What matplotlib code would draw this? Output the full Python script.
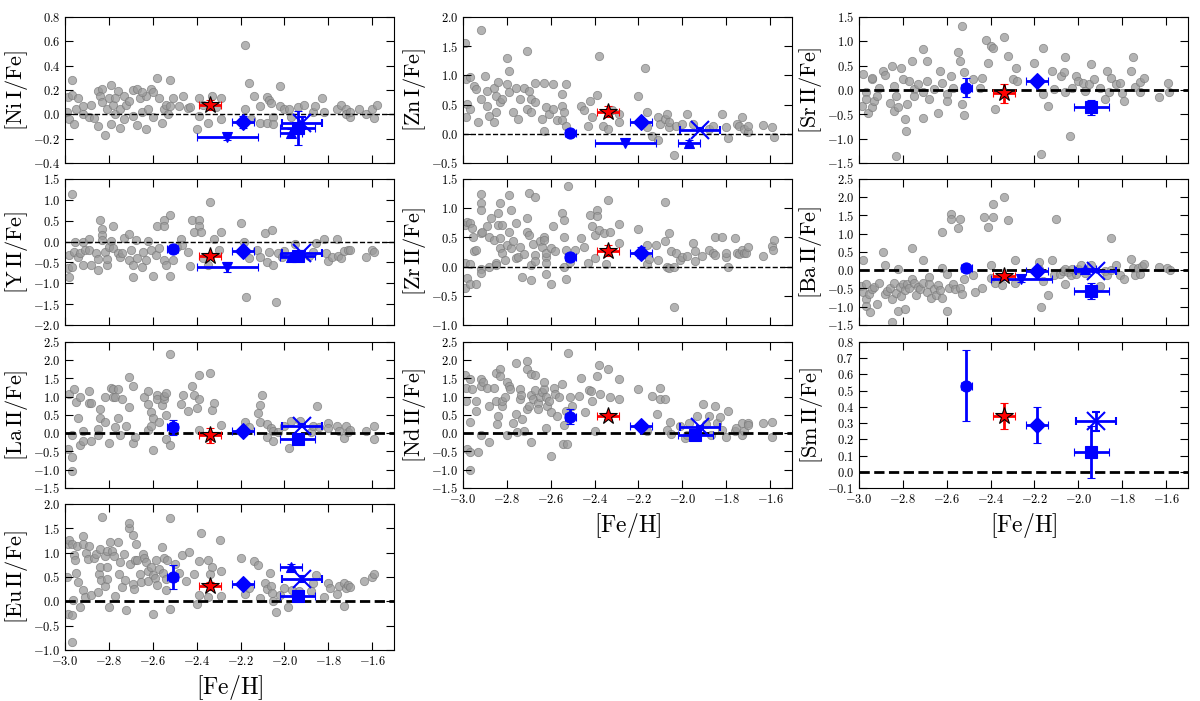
import numpy as np
import matplotlib
matplotlib.use('Agg')
import matplotlib.pyplot as plt
from matplotlib.ticker import MultipleLocator, FuncFormatter

plt.rcParams['mathtext.fontset'] = 'cm'
plt.rcParams['font.family'] = 'serif'
plt.rcParams['font.serif'] = ['DejaVu Serif']

# program stars: marker order and their [Fe/H] with errors
star_marker = ['o', '*', 'D', 'v', '^', 's', 'x']
star_feh = [-2.51, -2.34, -2.19, -2.26, -1.97, -1.94, -1.92]
star_feh_err = [0.027, 0.05, 0.05, 0.14, 0.05, 0.08, 0.09]

nan = np.nan
# [X/Fe] of the program stars (nan = not measured), same order as star_marker
ni_star = [nan, 0.077, -0.06, -0.19, -0.15, -0.11, -0.07]
ni_star_err = [nan, 0.04, 0.05, 0.02, 0.03, 0.14, 0.05]
zn_star = [0.01, 0.38, 0.20, -0.15, -0.15, nan, 0.07]
zn_star_err = [0.03, 0.10, 0.06, 0.03, 0.04, nan, 0.03]
sr_star = [0.05, -0.07, 0.185, nan, nan, -0.36, nan]
sr_star_err = [0.20, 0.19, 0.09, nan, nan, 0.16, nan]
y_star = [-0.18, -0.345, -0.22, -0.60, -0.38, -0.345, -0.28]
y_star_err = [0.07, 0.06, 0.07, 0.12, 0.04, 0.05, 0.05]
zr_star = [0.17, 0.275, 0.24, nan, nan, nan, nan]
zr_star_err = [0.07, 0.10, 0.10, nan, nan, nan, nan]
ba_star = [0.06, -0.16, -0.01, -0.25, 0.02, -0.57, -0.01]
ba_star_err = [0.05, 0.06, 0.07, 0.06, 0.03, 0.22, 0.03]
la_star = [0.16, -0.06, 0.07, nan, nan, -0.15, 0.21]
la_star_err = [0.20, 0.20, 0.08, nan, nan, 0.04, 0.05]
nd_star = [0.45, 0.48, 0.19, nan, nan, -0.05, 0.16]
nd_star_err = [0.20, 0.08, 0.06, nan, nan, 0.06, 0.05]
sm_star = [0.53, 0.345, 0.29, nan, nan, 0.12, 0.31]
sm_star_err = [0.22, 0.08, 0.11, nan, nan, 0.16, 0.06]
eu_star = [0.50, 0.31, 0.35, nan, 0.71, 0.10, 0.46]
eu_star_err = [0.25, 0.08, 0.08, nan, 0.06, 0.10, 0.06]

# literature comparison sample, ([Fe/H], [X/Fe])
ni_lit = [(-2.97, 0.28), (-2.985, 0.14), (-2.97, 0.16), (-2.94, 0.13), (-2.99, 0.02), (-2.98, -0.04),
          (-2.96, -0.08), (-2.95, 0.04), (-2.92, 0.07), (-2.92, 0.0), (-2.89, -0.02), (-2.87, -0.03),
          (-2.88, 0.08), (-2.85, 0.19), (-2.83, 0.21), (-2.84, 0.15), (-2.83, 0.10), (-2.85, -0.10),
          (-2.82, -0.17), (-2.81, 0.04), (-2.80, 0.13), (-2.79, 0.24), (-2.78, 0.08), (-2.77, 0.0),
          (-2.79, -0.08), (-2.76, 0.19), (-2.77, 0.13), (-2.75, 0.04), (-2.73, -0.04), (-2.75, -0.11),
          (-2.73, 0.15), (-2.72, 0.08), (-2.71, 0.11), (-2.69, 0.20), (-2.67, 0.21), (-2.69, -0.01),
          (-2.67, -0.09), (-2.66, 0.13), (-2.65, 0.02), (-2.63, 0.15), (-2.63, -0.12), (-2.65, 0.18),
          (-2.61, 0.21), (-2.60, 0.18), (-2.62, 0.04), (-2.60, -0.02), (-2.58, 0.30), (-2.57, 0.13),
          (-2.55, 0.04), (-2.56, -0.07), (-2.54, 0.08), (-2.53, 0.0), (-2.52, 0.28), (-2.51, 0.13),
          (-2.52, 0.07), (-2.48, 0.07), (-2.46, 0.15), (-2.44, 0.05), (-2.43, 0.06), (-2.40, -0.12),
          (-2.39, 0.13), (-2.39, -0.01), (-2.37, 0.08), (-2.35, -0.07), (-2.33, 0.15), (-2.31, 0.06),
          (-2.29, 0.13), (-2.29, -0.04), (-2.18, 0.04), (-2.18, 0.57), (-2.16, 0.26), (-2.14, 0.15),
          (-2.15, -0.04), (-2.11, -0.07), (-2.11, 0.07), (-2.08, 0.14), (-2.08, -0.07), (-2.07, 0.12),
          (-2.06, 0.09), (-2.05, -0.02), (-2.05, -0.08), (-2.02, 0.23), (-2.02, 0.07), (-2.00, 0.04),
          (-1.98, 0.04), (-1.97, -0.02), (-1.94, 0.06), (-1.91, 0.08), (-1.87, 0.02), (-1.86, 0.07),
          (-1.83, 0.13), (-1.82, 0.02), (-1.76, 0.04), (-1.74, 0.08), (-1.72, 0.04), (-1.72, 0.0),
          (-1.70, -0.02), (-1.70, 0.02), (-1.66, 0.04), (-1.63, 0.0), (-1.60, 0.04), (-1.58, 0.08),
          (-1.59, -0.03)]

zn_lit = [(-2.99, 1.55), (-2.92, 1.78), (-2.985, 0.93), (-2.97, 0.98), (-2.95, 0.82), (-2.98, 0.51),
          (-2.985, 0.28), (-2.97, 0.42), (-2.94, 0.76), (-2.92, 0.60), (-2.93, 0.20), (-2.90, 0.99),
          (-2.89, 0.73), (-2.89, 0.48), (-2.88, 0.31), (-2.86, 0.79), (-2.84, 0.88), (-2.85, 0.65),
          (-2.83, 0.54), (-2.82, 0.60), (-2.85, 0.37), (-2.86, 0.20), (-2.80, 0.85), (-2.80, 1.30),
          (-2.79, 1.07), (-2.79, 0.71), (-2.77, 0.37), (-2.76, 0.79), (-2.75, 0.25), (-2.74, 0.59),
          (-2.71, 1.41), (-2.72, 0.79), (-2.70, 0.73), (-2.69, 0.59), (-2.71, 0.42), (-2.69, 0.37),
          (-2.67, 0.87), (-2.67, 0.54), (-2.64, 0.25), (-2.63, 0.87), (-2.62, 0.45), (-2.63, 0.04),
          (-2.61, 0.34), (-2.59, 0.85), (-2.59, 0.42), (-2.57, 0.23), (-2.55, 0.68), (-2.55, 0.48),
          (-2.54, 0.37), (-2.55, 0.23), (-2.53, 0.85), (-2.53, 0.14), (-2.46, 0.48), (-2.45, 0.40),
          (-2.43, 0.14), (-2.42, 0.56), (-2.41, 0.28), (-2.39, 0.66), (-2.38, 1.33), (-2.36, 0.14),
          (-2.34, 0.08), (-2.32, 0.40), (-2.29, 0.20), (-2.29, 0.34), (-2.20, 0.65), (-2.17, 1.13),
          (-2.16, 0.37), (-2.16, 0.11), (-2.14, -0.04), (-2.11, -0.11), (-2.11, 0.28), (-2.10, 0.17),
          (-2.08, 0.25), (-2.07, 0.34), (-2.06, 0.11), (-2.06, 0.20), (-2.04, -0.37), (-2.03, 0.14),
          (-2.00, 0.17), (-1.98, 0.34), (-1.95, 0.17), (-1.88, 0.08), (-1.86, 0.14), (-1.82, 0.34),
          (-1.80, 0.11), (-1.79, -0.08), (-1.75, 0.17), (-1.74, 0.14), (-1.73, 0.28), (-1.72, 0.08),
          (-1.70, 0.03), (-1.70, 0.14), (-1.63, 0.15), (-1.59, 0.11), (-1.58, -0.06)]

sr_lit = [(-2.985, -0.33), (-2.98, 0.32), (-2.97, -0.05), (-2.97, -0.19), (-2.96, -0.47), (-2.94, -0.36),
          (-2.94, 0.22), (-2.93, -0.23), (-2.94, 0.25), (-2.92, -0.12), (-2.91, 0.05), (-2.89, 0.39),
          (-2.88, 0.30), (-2.86, -0.26), (-2.85, 0.49), (-2.84, -0.43), (-2.84, 0.08), (-2.83, -0.12),
          (-2.83, -1.36), (-2.82, -0.36), (-2.81, 0.46), (-2.80, 0.22), (-2.79, -0.60), (-2.785, -0.84),
          (-2.78, -0.29), (-2.77, 0.18), (-2.76, 0.60), (-2.75, 0.01), (-2.75, -0.12), (-2.73, 0.12),
          (-2.71, -0.57), (-2.71, 0.85), (-2.71, -0.05), (-2.69, 0.60), (-2.69, 0.18), (-2.68, -0.19),
          (-2.66, 0.01), (-2.64, -0.47), (-2.63, 0.39), (-2.62, 0.15), (-2.60, -0.09), (-2.60, -0.23),
          (-2.58, 0.29), (-2.57, 0.05), (-2.55, 0.79), (-2.54, 0.60), (-2.53, 1.31), (-2.52, 0.36),
          (-2.53, -0.29), (-2.52, -0.52), (-2.48, 0.22), (-2.45, 0.05), (-2.44, 0.25), (-2.42, 1.03),
          (-2.41, 0.56), (-2.40, 0.90), (-2.39, 0.87), (-2.38, -0.40), (-2.34, 1.08), (-2.32, 0.70),
          (-2.30, 0.22), (-2.285, 0.46), (-2.28, 0.18), (-2.20, 0.56), (-2.16, 0.87), (-2.16, -0.09),
          (-2.17, -1.32), (-2.14, -0.33), (-2.12, 0.39), (-2.11, 0.01), (-2.08, 0.29), (-2.065, 0.36),
          (-2.06, 0.68), (-2.06, -0.05), (-2.04, -0.94), (-2.03, 0.05), (-2.01, 0.29), (-2.00, 0.18),
          (-1.98, 0.15), (-1.97, -0.02), (-1.95, 0.12), (-1.94, 0.53), (-1.93, 0.22), (-1.90, 0.05),
          (-1.88, -0.19), (-1.87, 0.39), (-1.85, 0.25), (-1.86, -0.05), (-1.83, 0.12), (-1.81, 0.15),
          (-1.80, -0.07), (-1.79, -0.23), (-1.76, 0.39), (-1.75, 0.68), (-1.74, 0.07), (-1.72, -0.05),
          (-1.72, 0.16), (-1.70, 0.25), (-1.63, -0.14), (-1.59, 0.15), (-1.585, -0.05)]

y_lit = [(-2.97, 1.13), (-2.985, -0.64), (-2.98, -0.84), (-2.97, -0.60), (-2.98, -0.32), (-2.96, -0.24),
         (-2.955, -0.02), (-2.94, -0.36), (-2.93, -0.27), (-2.92, 0.0), (-2.92, -0.56), (-2.91, -0.20),
         (-2.89, 0.06), (-2.89, -0.20), (-2.88, -0.56), (-2.86, -0.27), (-2.85, -0.43), (-2.85, -0.68),
         (-2.84, 0.52), (-2.83, 0.30), (-2.83, 0.16), (-2.83, 0.04), (-2.82, -0.24), (-2.81, -0.56),
         (-2.81, -0.43), (-2.80, -0.14), (-2.79, 0.02), (-2.78, 0.38), (-2.78, -0.16), (-2.76, -0.28),
         (-2.75, -0.38), (-2.74, -0.28), (-2.73, 0.08), (-2.71, 0.18), (-2.71, -0.44), (-2.70, -0.20),
         (-2.69, -0.86), (-2.69, -0.56), (-2.675, 0.04), (-2.67, -0.40), (-2.65, -0.60), (-2.645, -0.24),
         (-2.63, -0.44), (-2.62, 0.02), (-2.61, -0.20), (-2.60, -0.83), (-2.585, -0.32), (-2.58, 0.38),
         (-2.57, -0.16), (-2.55, 0.51), (-2.55, 0.38), (-2.55, -0.44), (-2.54, -0.56), (-2.52, 0.63),
         (-2.52, -0.83), (-2.51, -0.44), (-2.49, -0.14), (-2.47, 0.06), (-2.465, -0.08), (-2.44, -0.24),
         (-2.43, -0.59), (-2.42, 0.52), (-2.41, 0.22), (-2.39, 0.52), (-2.39, 0.38), (-2.38, 0.24),
         (-2.37, -0.40), (-2.35, -0.56), (-2.34, 0.94), (-2.32, 0.06), (-2.30, -0.20), (-2.29, 0.22),
         (-2.20, 0.44), (-2.185, 0.0), (-2.175, -1.33), (-2.16, -0.40), (-2.125, -0.20), (-2.11, -0.36),
         (-2.09, 0.20), (-2.08, -0.50), (-2.07, -0.24), (-2.055, 0.28), (-2.05, -0.56), (-2.04, -1.45),
         (-2.03, -0.27), (-2.01, -0.36), (-2.00, -0.22), (-1.95, -0.06), (-1.89, -0.35), (-1.87, -0.24),
         (-1.855, -0.04), (-1.82, 0.06), (-1.81, -0.28), (-1.80, -0.46), (-1.785, -0.38), (-1.76, 0.06),
         (-1.755, -0.35), (-1.74, -0.40), (-1.73, -0.22), (-1.71, -0.20), (-1.70, -0.20), (-1.63, -0.36),
         (-1.60, -0.20), (-1.59, -0.24)]

zr_lit = [(-2.99, 0.06), (-2.99, -0.37), (-2.98, -0.20), (-2.97, -0.29), (-2.99, 0.72), (-2.98, 0.77),
          (-2.97, 0.74), (-2.96, 0.66), (-2.97, 0.05), (-2.955, 0.51), (-2.95, 0.26), (-2.94, 0.29),
          (-2.94, -0.30), (-2.92, 1.25), (-2.92, 1.08), (-2.92, 0.97), (-2.92, 0.58), (-2.92, -0.05),
          (-2.92, -0.11), (-2.915, 0.60), (-2.89, 0.69), (-2.88, 0.51), (-2.88, -0.01), (-2.87, 0.83),
          (-2.86, 0.46), (-2.85, 0.06), (-2.85, 0.03), (-2.84, 0.72), (-2.84, 0.92), (-2.83, 0.31),
          (-2.83, 0.49), (-2.83, 1.08), (-2.82, 0.72), (-2.82, 0.23), (-2.81, 0.11), (-2.80, 0.37),
          (-2.79, 1.23), (-2.79, 0.60), (-2.78, 0.97), (-2.78, 0.31), (-2.77, 0.43), (-2.76, 0.74),
          (-2.76, 0.14), (-2.75, 0.16), (-2.74, 0.34), (-2.73, -0.18), (-2.72, 0.22), (-2.71, 0.60),
          (-2.71, 0.83), (-2.70, 0.54), (-2.70, 1.26), (-2.69, -0.23), (-2.69, 0.03), (-2.68, 0.39),
          (-2.67, 1.19), (-2.67, 0.20), (-2.67, 0.09), (-2.65, 0.43), (-2.64, 0.34), (-2.63, 0.51),
          (-2.63, 0.46), (-2.62, 0.16), (-2.62, 0.24), (-2.62, 0.06), (-2.62, -0.13), (-2.60, -0.29),
          (-2.60, 0.31), (-2.59, 0.69), (-2.58, 0.26), (-2.55, 0.92), (-2.54, 0.79), (-2.54, -0.01),
          (-2.54, 0.51), (-2.53, 0.29), (-2.52, 1.38), (-2.53, -0.22), (-2.51, 0.07), (-2.49, 0.29),
          (-2.46, 0.49), (-2.45, 0.33), (-2.43, 0.06), (-2.42, 0.89), (-2.41, 0.69), (-2.40, 0.54),
          (-2.40, 0.14), (-2.39, 0.97), (-2.39, 0.87), (-2.38, 0.63), (-2.355, 0.57), (-2.35, 0.05),
          (-2.34, 1.14), (-2.33, 0.60), (-2.29, 0.73), (-2.29, 0.40), (-2.20, 0.64), (-2.16, 0.37),
          (-2.16, 0.05), (-2.15, 0.13), (-2.12, 0.37), (-2.11, 0.11), (-2.08, 1.10), (-2.08, 0.43),
          (-2.07, -0.01), (-2.06, 0.57), (-2.06, -0.03), (-2.05, 0.27), (-2.04, -0.01), (-2.04, -0.69),
          (-2.03, 0.24), (-2.01, 0.11), (-2.00, 0.16), (-1.98, 0.18), (-1.95, 0.40), (-1.94, 0.26),
          (-1.94, 0.10), (-1.91, 0.18), (-1.88, 0.29), (-1.86, 0.23), (-1.85, 0.51), (-1.85, 0.20),
          (-1.82, 0.51), (-1.80, 0.17), (-1.80, 0.23), (-1.79, 0.0), (-1.76, 0.49), (-1.75, 0.24),
          (-1.74, 0.22), (-1.73, 0.29), (-1.72, 0.24), (-1.71, 0.23), (-1.70, 0.34), (-1.63, 0.18),
          (-1.59, 0.35), (-1.585, 0.29), (-1.58, 0.46)]

ba_lit = [(-2.98, 0.29), (-2.99, -0.43), (-2.98, -0.61), (-2.97, -0.79), (-2.97, -0.39), (-2.97, -0.97),
          (-2.95, -1.15), (-2.955, -0.66), (-2.94, -0.52), (-2.93, -0.45), (-2.92, -0.93), (-2.91, -0.34),
          (-2.89, 0.49), (-2.88, 0.15), (-2.88, -0.66), (-2.87, -0.57), (-2.86, -0.48), (-2.85, -0.79),
          (-2.85, -1.42), (-2.84, -0.34), (-2.83, -0.63), (-2.82, 0.04), (-2.82, -1.13), (-2.815, -0.45),
          (-2.81, -0.70), (-2.80, -0.39), (-2.79, -0.54), (-2.79, -1.06), (-2.78, -0.39), (-2.77, -0.48),
          (-2.76, 0.60), (-2.76, -0.25), (-2.75, -0.34), (-2.74, -0.68), (-2.73, -0.45), (-2.72, -0.52),
          (-2.71, 0.29), (-2.71, -0.34), (-2.69, -0.59), (-2.68, -0.18), (-2.68, -0.39), (-2.67, -0.75),
          (-2.66, -0.52), (-2.65, -0.68), (-2.64, -0.41), (-2.63, -0.54), (-2.62, 1.05), (-2.62, 0.06),
          (-2.62, -0.75), (-2.60, -1.13), (-2.60, -0.09), (-2.59, -0.48), (-2.58, 1.53), (-2.58, 1.41),
          (-2.57, -0.39), (-2.56, -0.52), (-2.55, 1.17), (-2.54, 1.41), (-2.54, -0.48), (-2.53, -0.66),
          (-2.52, -0.25), (-2.48, -0.14), (-2.47, -0.59), (-2.44, -0.48), (-2.43, 1.47), (-2.41, 1.19),
          (-2.40, 0.15), (-2.40, -0.21), (-2.39, 1.82), (-2.39, 1.45), (-2.38, -0.34), (-2.35, -0.41),
          (-2.34, 2.00), (-2.32, 1.37), (-2.29, 0.29), (-2.29, -0.34), (-2.18, 0.22), (-2.18, 0.02),
          (-2.17, -1.02), (-2.16, -0.30), (-2.14, -0.68), (-2.12, 0.29), (-2.11, -0.14), (-2.10, 1.41),
          (-2.085, -0.09), (-2.07, -0.03), (-2.06, -0.39), (-2.06, 0.04), (-2.045, -0.05), (-2.035, -0.14),
          (-2.03, 0.02), (-2.01, -0.09), (-2.00, 0.02), (-1.99, 0.13), (-1.97, -0.07), (-1.94, 0.15),
          (-1.90, -0.43), (-1.88, -0.03), (-1.87, -0.12), (-1.85, 0.87), (-1.85, 0.0), (-1.83, 0.15),
          (-1.81, -0.14), (-1.79, -0.25), (-1.76, 0.31), (-1.75, 0.06), (-1.74, -0.14), (-1.73, 0.06),
          (-1.72, -0.09), (-1.71, 0.11), (-1.70, 0.18), (-1.63, 0.09), (-1.595, 0.06), (-1.58, 0.0)]

la_lit = [(-2.98, 1.07), (-2.96, 1.20), (-2.95, 0.86), (-2.93, 0.98), (-2.94, 0.41), (-2.985, -0.44),
          (-2.97, -0.65), (-2.97, -0.05), (-2.97, -1.03), (-2.93, -0.32), (-2.92, -0.20), (-2.92, 0.05),
          (-2.89, 1.16), (-2.89, 0.84), (-2.88, 0.84), (-2.88, -0.20), (-2.85, 0.12), (-2.85, -0.06),
          (-2.84, 0.66), (-2.84, 0.41), (-2.82, 1.00), (-2.82, 0.32), (-2.80, -0.26), (-2.79, 1.25),
          (-2.78, 1.00), (-2.78, 1.20), (-2.77, 0.98), (-2.77, 0.16), (-2.76, 0.41), (-2.76, 1.22),
          (-2.75, -0.06), (-2.74, 0.93), (-2.72, 0.19), (-2.71, 1.55), (-2.71, 0.73), (-2.69, 1.28),
          (-2.69, -0.26), (-2.68, -0.11), (-2.64, 0.98), (-2.62, 0.10), (-2.62, 1.16), (-2.62, 0.80),
          (-2.61, 0.59), (-2.61, 0.21), (-2.60, 0.43), (-2.60, -0.47), (-2.58, 1.04), (-2.58, 0.93),
          (-2.57, 0.32), (-2.56, 0.77), (-2.55, 0.95), (-2.55, 1.02), (-2.54, 1.10), (-2.54, 0.50),
          (-2.54, -0.15), (-2.52, 2.18), (-2.52, -0.32), (-2.47, 0.80), (-2.46, 1.04), (-2.44, 0.62),
          (-2.42, 1.30), (-2.41, 1.04), (-2.40, 0.68), (-2.39, 1.59), (-2.39, 0.93), (-2.39, 0.10),
          (-2.34, 1.64), (-2.33, 0.64), (-2.32, 0.84), (-2.29, 0.23), (-2.18, 0.32), (-2.16, 0.16),
          (-2.12, 0.55), (-2.11, 0.77), (-2.10, 1.04), (-2.11, 0.30), (-2.08, 0.25), (-2.08, -0.11),
          (-2.06, 0.14), (-2.05, 0.07), (-2.05, -0.20), (-2.03, 0.03), (-2.00, 0.19), (-1.98, -0.41),
          (-1.97, 0.34), (-1.93, 0.34), (-1.88, 0.03), (-1.87, 0.19), (-1.85, 0.75), (-1.84, 0.16),
          (-1.80, 0.28), (-1.80, 0.14), (-1.76, 0.21), (-1.75, 0.07), (-1.73, -0.14), (-1.72, 0.21),
          (-1.71, 0.03), (-1.70, 0.10), (-1.63, 0.07), (-1.59, 0.19), (-1.59, -0.15)]

nd_lit = [(-2.99, 1.59), (-2.985, 1.23), (-2.985, 0.89), (-2.98, -0.43), (-2.97, 0.32), (-2.97, -1.02),
          (-2.97, -0.52), (-2.97, 1.48), (-2.96, 1.21), (-2.94, 0.89), (-2.94, 0.62), (-2.93, -0.52),
          (-2.92, 1.48), (-2.92, 1.30), (-2.92, -0.05), (-2.91, 1.39), (-2.89, 1.23), (-2.88, 0.74),
          (-2.88, -0.23), (-2.86, 1.23), (-2.85, 0.89), (-2.85, 1.66), (-2.845, 0.25), (-2.84, 0.48),
          (-2.83, 1.75), (-2.83, 1.57), (-2.82, 0.74), (-2.82, 0.89), (-2.81, 0.98), (-2.80, -0.05),
          (-2.80, 1.41), (-2.79, 1.30), (-2.785, 1.21), (-2.77, 0.28), (-2.76, 0.53), (-2.76, 1.92),
          (-2.755, 0.03), (-2.74, 1.21), (-2.74, 0.95), (-2.735, 1.05), (-2.73, 0.39), (-2.72, 0.05),
          (-2.71, 1.98), (-2.71, 1.75), (-2.71, 0.65), (-2.70, 0.75), (-2.69, 1.05), (-2.69, -0.23),
          (-2.69, 1.62), (-2.68, 0.95), (-2.67, 1.19), (-2.67, 1.59), (-2.66, 0.84), (-2.66, 0.65),
          (-2.65, 1.00), (-2.64, 1.12), (-2.63, 1.21), (-2.63, 1.39), (-2.62, 0.14), (-2.62, 0.98),
          (-2.615, 0.75), (-2.61, 0.89), (-2.60, -0.63), (-2.60, 0.57), (-2.585, 1.23), (-2.58, 1.07),
          (-2.57, 0.48), (-2.56, 0.98), (-2.55, 1.34), (-2.545, -0.29), (-2.54, 0.23), (-2.53, 0.62),
          (-2.525, -0.29), (-2.52, 2.20), (-2.51, 0.98), (-2.505, 0.75), (-2.47, 1.03), (-2.46, 1.50),
          (-2.445, 0.59), (-2.425, 1.19), (-2.415, 1.16), (-2.41, 0.89), (-2.40, 0.07), (-2.39, 1.57),
          (-2.38, 1.86), (-2.375, 1.07), (-2.34, 1.77), (-2.33, 0.98), (-2.29, 1.48), (-2.29, 0.95),
          (-2.20, 1.21), (-2.16, 0.05), (-2.14, 1.03), (-2.115, 0.53), (-2.10, 1.23), (-2.10, 0.95),
          (-2.08, 0.95), (-2.07, 0.10), (-2.055, 0.30), (-2.05, -0.02), (-2.01, 0.21), (-1.99, -0.14),
          (-1.98, -0.06), (-1.97, 0.28), (-1.935, 0.48), (-1.905, 0.80), (-1.89, 0.25), (-1.88, 0.48),
          (-1.87, -0.06), (-1.85, 0.74), (-1.84, 0.28), (-1.83, 0.44), (-1.82, 0.10), (-1.80, -0.11),
          (-1.79, 0.62), (-1.76, 0.05), (-1.755, 0.14), (-1.73, 0.28), (-1.73, -0.06), (-1.72, 0.05),
          (-1.70, 0.28), (-1.70, 0.23), (-1.63, 0.28), (-1.59, 0.32), (-1.59, -0.11)]

eu_lit = [(-2.985, 1.17), (-2.98, 1.25), (-2.97, 1.17), (-2.99, 0.50), (-2.985, -0.26), (-2.97, -0.29),
          (-2.97, -0.84), (-2.965, 0.03), (-2.96, 0.95), (-2.955, 0.85), (-2.95, 0.59), (-2.945, 1.14),
          (-2.94, 0.39), (-2.93, -0.11), (-2.92, 1.34), (-2.92, 1.17), (-2.92, 0.23), (-2.91, 0.08),
          (-2.905, 1.00), (-2.895, 0.87), (-2.89, 1.14), (-2.88, 0.12), (-2.87, 0.89), (-2.86, 0.97),
          (-2.85, 0.20), (-2.845, 0.57), (-2.84, 0.71), (-2.84, 1.07), (-2.835, 0.44), (-2.83, 1.73),
          (-2.82, 0.32), (-2.82, 0.93), (-2.81, 0.46), (-2.81, 1.04), (-2.81, 0.70), (-2.80, -0.12),
          (-2.795, 1.21), (-2.785, 1.04), (-2.775, 0.93), (-2.77, 0.10), (-2.76, 1.21), (-2.755, 0.56),
          (-2.75, 0.80), (-2.74, 0.30), (-2.73, 0.97), (-2.725, 0.44), (-2.72, -0.18), (-2.71, 1.50),
          (-2.71, 1.60), (-2.705, 0.76), (-2.69, 1.36), (-2.69, 0.35), (-2.685, 0.25), (-2.68, 0.85),
          (-2.675, 1.17), (-2.67, 0.84), (-2.66, 0.57), (-2.655, 0.39), (-2.645, 0.98), (-2.64, 0.89),
          (-2.63, 0.80), (-2.62, 0.42), (-2.62, 0.63), (-2.61, 0.71), (-2.60, -0.26), (-2.60, 0.53),
          (-2.59, 0.48), (-2.585, 0.85), (-2.58, 0.34), (-2.57, 0.66), (-2.56, 1.12), (-2.555, 0.59),
          (-2.55, 0.89), (-2.54, 0.46), (-2.54, 0.23), (-2.535, 0.84), (-2.52, 1.71), (-2.52, -0.16),
          (-2.50, 0.76), (-2.48, 0.59), (-2.465, 0.95), (-2.45, 0.42), (-2.435, 1.02), (-2.41, 0.57),
          (-2.40, -0.05), (-2.39, 0.12), (-2.39, 0.82), (-2.38, 1.41), (-2.35, 0.85), (-2.35, 0.08),
          (-2.34, 0.57), (-2.33, 0.70), (-2.295, 1.25), (-2.29, 0.63), (-2.29, 0.10), (-2.20, 0.89),
          (-2.18, 0.14), (-2.16, 0.27), (-2.14, 0.83), (-2.12, 0.75), (-2.11, 0.07), (-2.09, 0.37),
          (-2.08, 0.25), (-2.065, 0.59), (-2.06, 0.32), (-2.055, 0.18), (-2.05, 0.01), (-2.04, -0.23),
          (-2.02, 0.12), (-2.00, 0.27), (-1.985, -0.11), (-1.965, 0.23), (-1.935, 0.22), (-1.88, 0.22),
          (-1.87, 0.37), (-1.855, 0.55), (-1.82, 0.08), (-1.80, 0.37), (-1.79, 0.27), (-1.76, 0.14),
          (-1.75, 0.32), (-1.73, -0.09), (-1.73, 0.37), (-1.72, 0.27), (-1.71, 0.34), (-1.70, 0.30),
          (-1.635, 0.41), (-1.60, 0.50), (-1.59, 0.56)]

# panel layout in figure fraction [left, bottom, width, height]
W, H = 0.2742, 0.2083
col_left = [0.0542, 0.3858, 0.7158]
row_bottom = [0.7675, 0.5364, 0.3039, 0.0728]

panels = [
    # label, literature, star values, star errors, ylim, ystep, row, col, thick dashed line
    (r'$[\mathrm{Ni\,I/Fe}]$', ni_lit, ni_star, ni_star_err, (-0.4, 0.8), 0.2, 0, 0, False),
    (r'$[\mathrm{Zn\,I/Fe}]$', zn_lit, zn_star, zn_star_err, (-0.5, 2.0), 0.5, 0, 1, False),
    (r'$[\mathrm{Sr\,II/Fe}]$', sr_lit, sr_star, sr_star_err, (-1.5, 1.5), 0.5, 0, 2, True),
    (r'$[\mathrm{Y\,II/Fe}]$', y_lit, y_star, y_star_err, (-2.0, 1.5), 0.5, 1, 0, False),
    (r'$[\mathrm{Zr\,II/Fe}]$', zr_lit, zr_star, zr_star_err, (-1.0, 1.5), 0.5, 1, 1, False),
    (r'$[\mathrm{Ba\,II/Fe}]$', ba_lit, ba_star, ba_star_err, (-1.5, 2.5), 0.5, 1, 2, True),
    (r'$[\mathrm{La\,II/Fe}]$', la_lit, la_star, la_star_err, (-1.5, 2.5), 0.5, 2, 0, True),
    (r'$[\mathrm{Nd\,II/Fe}]$', nd_lit, nd_star, nd_star_err, (-1.5, 2.5), 0.5, 2, 1, True),
    (r'$[\mathrm{Sm\,II/Fe}]$', [], sm_star, sm_star_err, (-0.1, 0.8), 0.1, 2, 2, True),
    (r'$[\mathrm{Eu\,II/Fe}]$', eu_lit, eu_star, eu_star_err, (-1.0, 2.0), 0.5, 3, 0, True),
]
bottom_panels = {(3, 0), (2, 1), (2, 2)}

fig = plt.figure(figsize=(12, 7.01), dpi=100)

tickfmt = FuncFormatter(lambda v, p: r'$%.1f$' % v)

for label, lit, vals, errs, ylim, ystep, row, col, thick in panels:
    ax = fig.add_axes([col_left[col], row_bottom[row], W, H])
    if lit:
        lx, ly = zip(*lit)
        ax.plot(lx, ly, 'o', color='#9a9a9a', mec='#7a7a7a', mew=0.6, alpha=0.75, ms=6, zorder=1)
    ax.axhline(0, color='k', ls='--', lw=2 if thick else 1, zorder=2)
    for i, m in enumerate(star_marker):
        if np.isnan(vals[i]):
            continue
        red = (m == '*')
        c = 'red' if red else 'blue'
        ms = {'o': 8, '*': 13, 'D': 8, 'v': 7, '^': 7, 's': 8, 'x': 13}[m]
        ax.errorbar(star_feh[i], vals[i], xerr=star_feh_err[i], yerr=errs[i],
                    fmt=m, color=c, mfc=c, mec='k' if red else c, ms=ms,
                    mew=1.5 if m == 'x' else 0.8, elinewidth=2, capsize=3, capthick=1.5,
                    zorder=5)
    ax.set_xlim(-3.0, -1.5)
    ax.set_ylim(*ylim)
    ax.xaxis.set_major_locator(MultipleLocator(0.2))
    ax.yaxis.set_major_locator(MultipleLocator(ystep))
    ax.tick_params(direction='in', top=True, right=True, length=6, labelsize=9)
    ax.yaxis.set_major_formatter(tickfmt)
    ax.xaxis.set_major_formatter(tickfmt)
    ax.set_ylabel(label, fontsize=16, labelpad=2)
    if (row, col) in bottom_panels:
        ax.set_xlabel(r'$[\mathrm{Fe/H}]$', fontsize=17)
    else:
        ax.tick_params(labelbottom=False)

fig.savefig('out.png', dpi=100)
